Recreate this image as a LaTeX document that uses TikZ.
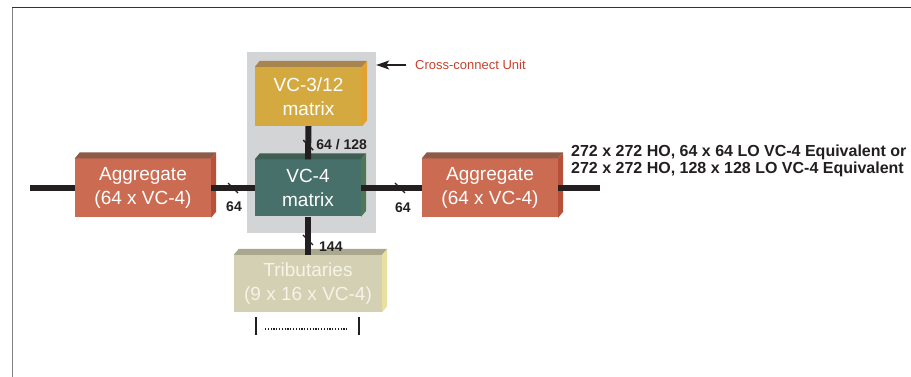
\documentclass[tikz,border=0pt]{standalone}
\usepackage{fontspec}
\setmainfont{Liberation Sans}
\usetikzlibrary{arrows.meta, positioning, calc}
\definecolor{PanelGray}{HTML}{D3D4D6}
\definecolor{WireBlack}{HTML}{231F20}
\definecolor{AggFront}{HTML}{CA6B52}
\definecolor{AggTop}{HTML}{8C5B4A}
\definecolor{AggSide}{HTML}{B8513A}
\definecolor{GoldFront}{HTML}{D4A940}
\definecolor{GoldTop}{HTML}{A8844F}
\definecolor{GoldSide}{HTML}{E2A232}
\definecolor{TealFront}{HTML}{47706B}
\definecolor{TealTop}{HTML}{3F5F55}
\definecolor{TealSide}{HTML}{4F7757}
\definecolor{TribFront}{HTML}{D4D0B3}
\definecolor{TribTop}{HTML}{A9A78D}
\definecolor{TribSide}{HTML}{E9DFA0}
\definecolor{TribText}{HTML}{F6F3E8}
\definecolor{NoteRed}{HTML}{C8412C}
\tikzset{
    block/.style={
        fill=#1,
        minimum width=136pt,
        minimum height=59pt,
        text=white,
        font=\fontsize{19}{24}\selectfont,
        align=center,
        inner sep=0pt
    },
    block/.default=AggFront,
    panel/.style={
        fill=PanelGray,
        minimum width=129pt,
        minimum height=181pt,
        inner sep=0pt
    },
    wire/.style={
        line width=6pt,
        WireBlack
    },
    tickmark/.style={
        line width=1.3pt,
        WireBlack
    },
    lbl/.style={
        font=\fontsize{14}{14}\selectfont\bfseries,
        text=WireBlack,
        inner sep=0pt
    },
    note/.style={
        font=\fontsize{16}{17}\selectfont\bfseries,
        text=WireBlack,
        align=left,
        inner sep=0pt
    },
    pointer/.style={
        -{Stealth[length=13pt, width=9pt, inset=3pt]},
        line width=1.2pt,
        WireBlack
    },
    frameline/.style={
        line width=1pt,
        gray
    }
}
\begin{document}
\begin{tikzpicture}[x=1pt, y=-1pt]
        \useasboundingbox (0,0) rectangle (911,377);

        % Frame
        \draw[frameline] (12,377) -- (12,8);
        \draw[frameline, black!80] (12,8) -- (911,8);

        % Cross-connect unit
        \node[panel] (xcu) at (311.5,142.5) {};

        % Blocks
        \node[block=AggFront] (aggL) at (143,188) {Aggregate\\(64 x VC-4)};
        \node[block=AggFront] (aggR) at (490,188) {Aggregate\\(64 x VC-4)};
        \node[block=GoldFront, minimum width=107pt] (vcthree) at (308.5,96.5) {VC-3/12\\matrix};
        \node[block=TealFront, minimum width=106pt, minimum height=57pt] (vcfour) at (308,188) {VC-4\\matrix};
        \node[block=TribFront, minimum width=148pt, minimum height=57pt, text=TribText] (trib) at (308,283.5) {Tributaries\\(9 x 16 x VC-4)};

        % Top and side faces
        \foreach \n/\t/\s in {aggL/AggTop/AggSide, aggR/AggTop/AggSide, vcthree/GoldTop/GoldSide, vcfour/TealTop/TealSide, trib/TribTop/TribSide} {
            \fill[\t] (\n.north west) -- ++(5,-6) -- ($(\n.north east)+(5,-6)$) -- (\n.north east) -- cycle;
            \fill[\s] (\n.north east) -- ++(5,-6) -- ($(\n.south east)+(5,-6)$) -- (\n.south east) -- cycle;
        }

        % Connectors
        \coordinate (inL) at (30,188);
        \coordinate (outR) at (600,188);
        \draw[wire] (inL) -- (aggL.west);
        \draw[wire] (aggL.east) -- coordinate[pos=0.5] (tA) (vcfour.west);
        \draw[wire] (vcfour.east) -- coordinate[pos=0.64] (tB) (aggR.west);
        \draw[wire] (aggR.east) -- (outR);
        \draw[wire] (vcthree.south) -- coordinate[pos=0.57] (tC) (vcfour.north);
        \draw[wire] (vcfour.south) -- coordinate[pos=0.61] (tD) (trib.north);

        % Width marks
        \foreach \c in {tA, tB, tC, tD} {
            \draw[tickmark] ([shift={(-5,-5)}]\c) -- ([shift={(5,5)}]\c);
        }
        \node[lbl] (nA) at ([shift={(1,19)}]tA) {64};
        \node[lbl] (nB) at ([shift={(3,20)}]tB) {64};
        \node[lbl, anchor=west] (nC) at ([shift={(8,0)}]tC) {64 / 128};
        \node[lbl, anchor=west] (nD) at ([shift={(11,7)}]tD) {144};

        % Capacity note
        \node[note, anchor=west] (cap) at (571,160.5) {272 x 272 HO, 64 x 64 LO VC-4 Equivalent or\\272 x 272 HO, 128 x 128 LO VC-4 Equivalent};

        % Cross-connect label
        \node[font=\fontsize{13}{13}\selectfont, text=NoteRed, anchor=west, inner sep=0pt] (ccl) at (415,65) {Cross-connect Unit};
        \draw[pointer] ([xshift=-9pt]ccl.west) -- (xcu.east |- ccl.west);

        % Tributary ports
        \draw[line width=1.6pt, WireBlack] (256,317) -- (256,335);
        \draw[line width=1.6pt, WireBlack] (359,317) -- (359,335);
        \draw[line width=1.6pt, WireBlack, dash pattern=on 1.2pt off 1.6pt] (265,329) -- (347,329);
    \end{tikzpicture}
\end{document}
